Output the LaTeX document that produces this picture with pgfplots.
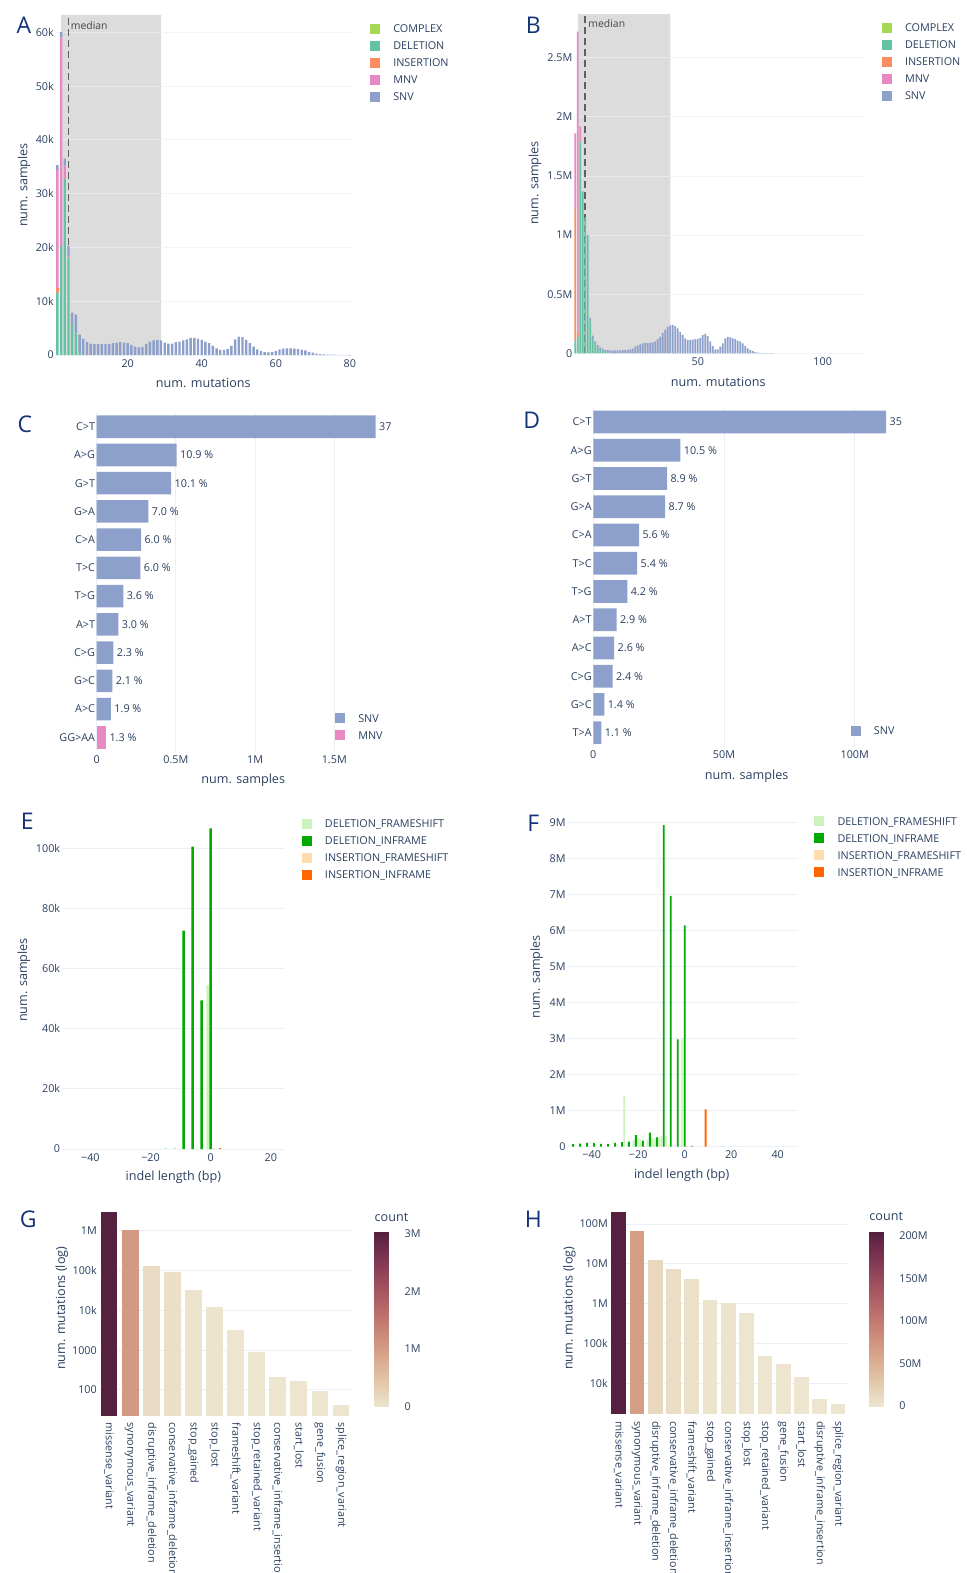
\documentclass[border=0pt]{standalone}
\usepackage{fontspec}
\setmainfont{Open Sans}
\usepackage{pgfplots}
\usepackage{pgfplotstable}
\pgfplotsset{compat=1.18}

\definecolor{tickc}{RGB}{42,63,95}
\definecolor{gridc}{RGB}{235,240,248}
\definecolor{cpx}{RGB}{166,216,84}
\definecolor{del}{RGB}{102,194,165}
\definecolor{ins}{RGB}{252,141,98}
\definecolor{mnv}{RGB}{231,138,195}
\definecolor{snv}{RGB}{141,160,203}
\definecolor{shadec}{RGB}{220,220,220}
\definecolor{medc}{RGB}{95,95,95}
\definecolor{medt}{RGB}{68,68,68}
\definecolor{dfs}{RGB}{204,242,190}
\definecolor{dif}{RGB}{0,170,0}
\definecolor{ifs}{RGB}{255,221,176}
\definecolor{iif}{RGB}{255,102,0}
\definecolor{lett}{RGB}{20,50,120}
% bar colours for G and H (brwnyl colormap at each value)
\definecolor{g0}{RGB}{86,32,64}
\definecolor{g1}{RGB}{210,154,130}
\definecolor{g2}{RGB}{234,220,196}
\definecolor{g3}{RGB}{235,223,199}
\definecolor{g4}{RGB}{236,227,204}
\definecolor{g5}{RGB}{237,228,206}
\definecolor{g6}{RGB}{237,229,207}
\definecolor{h0}{RGB}{86,32,64}
\definecolor{h1}{RGB}{212,158,133}
\definecolor{h2}{RGB}{232,216,190}
\definecolor{h3}{RGB}{234,221,197}
\definecolor{h4}{RGB}{235,225,201}
\definecolor{h5}{RGB}{236,228,205}
\definecolor{h6}{RGB}{237,229,207}

\pgfplotsset{colormap={brwnyl}{rgb255=(237,229,207) rgb255=(224,194,162) rgb255=(211,156,131) rgb255=(193,118,111) rgb255=(166,84,97) rgb255=(129,55,83) rgb255=(84,31,63)}}

\newcommand{\tf}{\fontsize{10.8}{13}\selectfont}
\newcommand{\lf}{\fontsize{12.6}{15}\selectfont}

\pgfplotsset{
 sqlegend/.style={legend image code/.code={\fill[##1] (0pt,-5pt) rectangle (10pt,5pt);}},
 base/.style={
  scale only axis, anchor=south west,
  axis line style={draw=none},
  major tick length=0pt, minor tick length=0pt,
  tick label style={font=\tf, text=tickc},
  label style={font=\lf, text=tickc},
  yticklabel style={anchor=east, inner sep=0pt, xshift=-1.5pt},
  grid style={draw=gridc, line width=1pt},
  xlabel style={anchor=center},
  ylabel style={anchor=center},
  legend style={draw=none, fill=none, inner sep=0pt, outer sep=0pt, anchor=north west, font=\tf, text=tickc, row sep=7pt, nodes={inner sep=0pt, text height=7.72pt, text depth=0pt}, /tikz/every odd column/.append style={column sep=13.3pt}},
  legend cell align=left,
  every axis plot post/.append style={sqlegend},
 },
 xtl/.style={xticklabel style={anchor=base, inner sep=0pt, yshift=-12pt}},
 cbar/.style={scaled y ticks=false, scale only axis, axis line style={draw=none}, major tick length=0pt, yticklabel style={font=\tf, text=tickc, anchor=west, inner sep=0pt, xshift=3.3pt}, title={count}, title style={at={(0,1)}, anchor=base west, inner sep=0pt, font=\lf, text=tickc}},
}

% ---------------- data -----------------
\pgfplotstableread{
x cpx del ins mnv snv
1 0 11.6 0.9 21.9 0.9
2 0 20.3 0 38.7 1.0
3 0 32.7 0 2.5 1.3
4 0 18.1 0 0.3 1.9
5 0 5.8 0 0 2.1
6 0 4.0 0 0 3.5
7 0 0.3 0 0 3.5
8 0 0 0 0 3.0
9 0 0 0 0 2.4
10 0 0 0 0 2.1
11 0 0 0 0 2.0
12 0 0 0 0 2.0
13 0 0 0 0 2.0
14 0 0 0 0 2.0
15 0 0 0 0 2.0
16 0 0 0 0 2.2
17 0 0 0 0 2.3
18 0 0 0 0 2.4
19 0 0 0 0 2.3
20 0 0 0 0 2.2
21 0 0 0 0 1.9
22 0 0 0 0 1.55
23 0 0 0 0 1.4
24 0 0 0 0 1.5
25 0 0 0 0 2.0
26 0 0 0 0 2.5
27 0 0 0 0 2.7
28 0 0 0 0 2.8
29 0 0 0 0 2.7
30 0 0 0 0 2.3
31 0 0 0 0 2.1
32 0 0 0 0 2.1
33 0 0 0 0 2.4
34 0 0 0 0 2.5
35 0 0 0 0 2.7
36 0 0 0 0 2.9
37 0 0 0 0 3.2
38 0 0 0 0 3.2
39 0 0 0 0 3.0
40 0 0 0 0 2.8
41 0 0 0 0 2.5
42 0 0 0 0 2.2
43 0 0 0 0 1.7
44 0 0 0 0 1.25
45 0 0 0 0 0.95
46 0 0 0 0 0.95
47 0 0 0 0 1.1
48 0 0 0 0 1.7
49 0 0 0 0 2.9
50 0 0 0 0 3.4
51 0 0 0 0 3.3
52 0 0 0 0 2.8
53 0 0 0 0 2.2
54 0 0 0 0 1.55
55 0 0 0 0 1.05
56 0 0 0 0 0.7
57 0 0 0 0 0.55
58 0 0 0 0 0.5
59 0 0 0 0 0.55
60 0 0 0 0 0.75
61 0 0 0 0 1.05
62 0 0 0 0 1.2
63 0 0 0 0 1.25
64 0 0 0 0 1.25
65 0 0 0 0 1.2
66 0 0 0 0 1.1
67 0 0 0 0 1.0
68 0 0 0 0 0.85
69 0 0 0 0 0.6
70 0 0 0 0 0.45
71 0 0 0 0 0.25
72 0 0 0 0 0.18
73 0 0 0 0 0.12
74 0 0 0 0 0.08
75 0 0 0 0 0.06
76 0 0 0 0 0.05
77 0 0 0 0 0.04
78 0 0 0 0 0.03
79 0 0 0 0 0.03
80 0 0 0 0 0.02
}\tabA

\pgfplotstableread{
x cpx del ins mnv snv
1 0 100 1120 640 0
2 0 140 30 2550 0
3 0 1790 0 130 0
4 0 1370 0 0 0
5 0 1150 0 0 0
6 0 1000 0 0 0
7 0 270 0 0 30
8 0 130 0 0 20
9 0 80 0 0 20
10 0 50 0 0 20
11 0 30 0 0 20
12 0 20 0 0 20
13 0 10 0 0 18
14 0 5 0 0 22
15 0 0 0 0 25
16 0 0 0 0 25
17 0 0 0 0 25
18 0 0 0 0 25
19 0 0 0 0 25
20 0 0 0 0 26
21 0 0 0 0 28
22 0 0 0 0 30
23 0 0 0 0 34
24 0 0 0 0 40
25 0 0 0 0 56
26 0 0 0 0 68
27 0 0 0 0 76
28 0 0 0 0 85
29 0 0 0 0 88
30 0 0 0 0 88
31 0 0 0 0 90
32 0 0 0 0 92
33 0 0 0 0 100
34 0 0 0 0 120
35 0 0 0 0 140
36 0 0 0 0 170
37 0 0 0 0 200
38 0 0 0 0 225
39 0 0 0 0 237
40 0 0 0 0 240
41 0 0 0 0 230
42 0 0 0 0 210
43 0 0 0 0 180
44 0 0 0 0 155
45 0 0 0 0 127
46 0 0 0 0 113
47 0 0 0 0 113
48 0 0 0 0 115
49 0 0 0 0 120
50 0 0 0 0 122
51 0 0 0 0 130
52 0 0 0 0 155
53 0 0 0 0 165
54 0 0 0 0 145
55 0 0 0 0 100
56 0 0 0 0 60
57 0 0 0 0 34
58 0 0 0 0 34
59 0 0 0 0 56
60 0 0 0 0 85
61 0 0 0 0 127
62 0 0 0 0 140
63 0 0 0 0 135
64 0 0 0 0 127
65 0 0 0 0 120
66 0 0 0 0 107
67 0 0 0 0 100
68 0 0 0 0 85
69 0 0 0 0 62
70 0 0 0 0 42
71 0 0 0 0 28
72 0 0 0 0 20
73 0 0 0 0 11
74 0 0 0 0 6
75 0 0 0 0 3
76 0 0 0 0 2
77 0 0 0 0 1
78 0 0 0 0 1
79 0 0 0 0 0.5
80 0 0 0 0 0.5
}\tabB

\pgfplotstableread[col sep=comma]{
y,v,lab
0,1.761,37
1,0.505,10.9 \%
2,0.470,10.1 \%
3,0.326,7.0 \%
4,0.280,6.0 \%
5,0.276,6.0 \%
6,0.168,3.6 \%
7,0.137,3.0 \%
8,0.105,2.3 \%
9,0.099,2.1 \%
10,0.090,1.9 \%
}\tabCsnv
\pgfplotstableread[col sep=comma]{
y,v,lab
11,0.059,1.3 \%
}\tabCmnv
\pgfplotstableread[col sep=comma]{
y,v,lab
0,112.0,35
1,33.3,10.5 \%
2,28.2,8.9 \%
3,27.5,8.7 \%
4,17.5,5.6 \%
5,16.8,5.4 \%
6,13.0,4.2 \%
7,8.9,2.9 \%
8,8.0,2.6 \%
9,7.4,2.4 \%
10,4.2,1.4 \%
11,3.1,1.1 \%
}\tabD

\begin{document}
\begin{tikzpicture}
\useasboundingbox (0pt,0pt) rectangle (966pt,-1573pt);

% ================= A =================
% background: shaded interval only
\begin{axis}[base, at={(55.5pt,-355pt)}, width=296.2pt, height=340pt,
 xmin=0.5, xmax=80.5, ymin=0, ymax=63.2, xtick=\empty, ytick=\empty]
\addplot[fill=shadec, draw=none] coordinates {(2,0) (2,63.2) (29,63.2) (29,0)} \closedcycle;
\end{axis}
\begin{axis}[base, xtl, at={(55.5pt,-355pt)}, width=296.2pt, height=340pt,
 ybar stacked, bar width=0.65, xmin=0.5, xmax=80.5, ymin=0, ymax=63.2,
 xtick={20,40,60,80}, xticklabels={20,40,60,80},
 ytick={0,10,20,30,40,50,60}, yticklabels={0,10k,20k,30k,40k,50k,60k},
 ymajorgrids, grid style={draw=gridc, line width=0.8pt, opacity=0.7},
 xlabel={num. mutations}, ylabel={num. samples},
 xlabel style={at={(axis description cs:0.499,-0.083)}},
 ylabel style={at={(axis description cs:-0.106,0.5)}},
 legend style={at={(1.0618,0.9735)}},
]
\addplot[fill=cpx, draw=none] table[x=x,y=cpx] \tabA; \addlegendentry{COMPLEX}
\addplot[fill=del, draw=none] table[x=x,y=del] \tabA; \addlegendentry{DELETION}
\addplot[fill=ins, draw=none] table[x=x,y=ins] \tabA; \addlegendentry{INSERTION}
\addplot[fill=mnv, draw=none] table[x=x,y=mnv] \tabA; \addlegendentry{MNV}
\addplot[fill=snv, draw=none] table[x=x,y=snv] \tabA; \addlegendentry{SNV}
\draw[medc, dash pattern=on 7pt off 4pt, line width=1.8pt] (axis cs:4,0) -- (axis cs:4,63.2);
\node[anchor=west, inner sep=0pt, font=\fontsize{10.4}{12}\selectfont, text=medt] at (axis cs:4.6,61.3) {median};
\end{axis}

% ================= B =================
\begin{axis}[base, at={(574pt,-353.3pt)}, width=290pt, height=339.3pt,
 xmin=0.5, xmax=116.5, ymin=0, ymax=2870, xtick=\empty, ytick=\empty]
\addplot[fill=shadec, draw=none] coordinates {(2,0) (2,2870) (39,2870) (39,0)} \closedcycle;
\end{axis}
\begin{axis}[base, xtl, at={(574pt,-353.3pt)}, width=290pt, height=339.3pt,
 ybar stacked, bar width=0.65, xmin=0.5, xmax=116.5, ymin=0, ymax=2870,
 xtick={50,100}, xticklabels={50,100},
 ytick={0,500,1000,1500,2000,2500}, yticklabels={0,0.5M,1M,1.5M,2M,2.5M},
 ymajorgrids, grid style={draw=gridc, line width=0.8pt, opacity=0.7},
 xlabel={num. mutations}, ylabel={num. samples},
 xlabel style={at={(axis description cs:0.4976,-0.0837)}},
 ylabel style={at={(axis description cs:-0.1345,0.502)}},
 legend style={at={(1.061,0.9744)}},
]
\addplot[fill=cpx, draw=none] table[x=x,y=cpx] \tabB; \addlegendentry{COMPLEX}
\addplot[fill=del, draw=none] table[x=x,y=del] \tabB; \addlegendentry{DELETION}
\addplot[fill=ins, draw=none] table[x=x,y=ins] \tabB; \addlegendentry{INSERTION}
\addplot[fill=mnv, draw=none] table[x=x,y=mnv] \tabB; \addlegendentry{MNV}
\addplot[fill=snv, draw=none] table[x=x,y=snv] \tabB; \addlegendentry{SNV}
\draw[medc, dash pattern=on 7pt off 4pt, line width=1.8pt] (axis cs:5,0) -- (axis cs:5,2870);
\node[anchor=west, inner sep=0pt, font=\fontsize{10.4}{12}\selectfont, text=medt] at (axis cs:6.2,2792) {median};
\end{axis}

% ================= C =================
\begin{axis}[base, xtl, at={(96.7pt,-751.4pt)}, width=281.3pt, height=338.8pt,
 xbar, bar shift=0pt, bar width=0.8, y dir=reverse,
 ymin=-0.5, ymax=11.5, xmin=0, xmax=1.776,
 ytick={0,...,11}, yticklabels={C>T,A>G,G>T,G>A,C>A,T>C,T>G,A>T,C>G,G>C,A>C,GG>AA},
 xtick={0,0.5,1,1.5}, xticklabels={0,0.5M,1M,1.5M},
 xmajorgrids,
 xlabel={num. samples},
 xlabel style={at={(axis description cs:0.521,-0.0844)}},
 legend style={at={(0.847,0.1125)}},
 nodes near coords, point meta=explicit symbolic,
 every node near coord/.append style={anchor=west, inner sep=0pt, xshift=3.3pt, font=\tf, text=tickc},
 clip=false,
]
\addplot[fill=snv, draw=none] table[x=v,y=y,meta=lab] \tabCsnv; \addlegendentry{SNV}
\addplot[fill=mnv, draw=none] table[x=v,y=y,meta=lab] \tabCmnv; \addlegendentry{MNV}
\end{axis}

% ================= D =================
\begin{axis}[base, xtl, at={(593.3pt,-746.8pt)}, width=295.4pt, height=338.9pt,
 xbar, bar shift=0pt, bar width=0.8, y dir=reverse,
 ymin=-0.5, ymax=11.5, xmin=0, xmax=113,
 ytick={0,...,11}, yticklabels={C>T,A>G,G>T,G>A,C>A,T>C,T>G,A>T,A>C,C>G,G>C,T>A},
 xtick={0,50,100}, xticklabels={0,50M,100M},
 xmajorgrids,
 xlabel={num. samples},
 xlabel style={at={(axis description cs:0.519,-0.086)}},
 legend style={at={(0.8713,0.0614)}},
 nodes near coords, point meta=explicit symbolic,
 every node near coord/.append style={anchor=west, inner sep=0pt, xshift=3.3pt, font=\tf, text=tickc},
 clip=false,
]
\addplot[fill=snv, draw=none] table[x=v,y=y,meta=lab] \tabD; \addlegendentry{SNV}
\end{axis}

% ================= E =================
\begin{axis}[base, xtl, at={(61.8pt,-1149pt)}, width=222.6pt, height=337pt,
 ybar, bar shift=0pt, bar width=0.8,
 xmin=-49.5, xmax=24.5, ymin=0, ymax=112,
 xtick={-40,-20,0,20}, xticklabels={−40,−20,0,20},
 ytick={0,20,40,60,80,100}, yticklabels={0,20k,40k,60k,80k,100k},
 ymajorgrids,
 xlabel={indel length (bp)}, ylabel={num. samples},
 xlabel style={at={(axis description cs:0.501,-0.085)}},
 ylabel style={at={(axis description cs:-0.17,0.5015)}},
 legend style={at={(1.0777,0.9792)}},
]
\addplot[fill=dfs, draw=none] coordinates {(-15,0.5) (-12,0.5) (-1,54.5)}; \addlegendentry{DELETION\_FRAMESHIFT}
\addplot[fill=dif, draw=none] coordinates {(-9,72.6) (-6,100.5) (-3,49.4) (0,106.6)}; \addlegendentry{DELETION\_INFRAME}
\addplot[fill=ifs, draw=none] coordinates {(1,0.3)}; \addlegendentry{INSERTION\_FRAMESHIFT}
\addplot[fill=iif, draw=none] coordinates {(3,0.4)}; \addlegendentry{INSERTION\_INFRAME}
\end{axis}

% ================= F =================
\begin{axis}[base, xtl, at={(567.3pt,-1146.7pt)}, width=230.2pt, height=337.7pt,
 ybar, bar shift=0pt, bar width=0.8,
 xmin=-50.5, xmax=48.5, ymin=0, ymax=9.38,
 xtick={-40,-20,0,20,40}, xticklabels={−40,−20,0,20,40},
 ytick={0,1,2,3,4,5,6,7,8,9}, yticklabels={0,1M,2M,3M,4M,5M,6M,7M,8M,9M},
 ymajorgrids,
 xlabel={indel length (bp)}, ylabel={num. samples},
 xlabel style={at={(axis description cs:0.497,-0.084)}},
 ylabel style={at={(axis description cs:-0.133,0.503)}},
 legend style={at={(1.073,0.9784)}},
]
\addplot[fill=dfs, draw=none] coordinates {(-26,1.41) (-22,0.18) (-20,0.24) (-19,0.2) (-16,0.2) (-14,0.24) (-13,0.22) (-11,0.26) (-10,0.3) (-8,0.3) (-1,3.0)}; \addlegendentry{DELETION\_FRAMESHIFT}
\addplot[fill=dif, draw=none] coordinates {(-48,0.074) (-45,0.083) (-42,0.11) (-39,0.1) (-36,0.08) (-33,0.07) (-30,0.11) (-27,0.13) (-24,0.14) (-21,0.32) (-18,0.17) (-15,0.39) (-12,0.26) (-9,8.93) (-6,6.97) (-3,2.98) (0,6.15)}; \addlegendentry{DELETION\_INFRAME}
\addplot[fill=ifs, draw=none] coordinates {(1,0.02)}; \addlegendentry{INSERTION\_FRAMESHIFT}
\addplot[fill=iif, draw=none] coordinates {(3,0.03) (9,1.04)}; \addlegendentry{INSERTION\_INFRAME}
\end{axis}

% ================= G =================
\begin{axis}[base, at={(98.5pt,-1415.7pt)}, width=253.1pt, height=204.7pt,
 ybar, bar shift=0pt, bar width=0.8, ymode=log, log origin=infty,
 xmin=-0.5, xmax=11.5, ymin=22.5, ymax=3.18e6,
 xtick={0,...,11},
 xticklabels={missense\_variant,synonymous\_variant,disruptive\_inframe\_deletion,conservative\_inframe\_deletion,stop\_gained,stop\_lost,frameshift\_variant,stop\_retained\_variant,conservative\_inframe\_insertion,start\_lost,gene\_fusion,splice\_region\_variant},
 xticklabel style={rotate=-90, anchor=west, inner sep=0pt, inner xsep=6.6pt},
 ytick={100,1000,10000,100000,1000000}, yticklabels={100,1000,10k,100k,1M},
 ymajorgrids,
 ylabel={num. mutations (log)},
 ylabel style={at={(axis description cs:-0.145,0.525)}},
 colorbar, colormap name=brwnyl, point meta min=0, point meta max=3.03e6,
 colorbar style={cbar, at={(parent axis.north east)}, anchor=north west, xshift=14.4pt, yshift=-20.7pt, width=26.7pt, height=175pt, ytick={0,1e6,2e6,3e6}, yticklabels={0,1M,2M,3M}, title style={yshift=4.1pt}},
]
\addplot[fill=g0, draw=none] coordinates {(0,3.0e6)};
\addplot[fill=g1, draw=none] coordinates {(1,1.04e6)};
\addplot[fill=g2, draw=none] coordinates {(2,1.28e5)};
\addplot[fill=g3, draw=none] coordinates {(3,9.06e4)};
\addplot[fill=g4, draw=none] coordinates {(4,3.3e4)};
\addplot[fill=g5, draw=none] coordinates {(5,1.19e4)};
\addplot[fill=g6, draw=none] coordinates {(6,3260)};
\addplot[fill=g6, draw=none] coordinates {(7,927)};
\addplot[fill=g6, draw=none] coordinates {(8,209)};
\addplot[fill=g6, draw=none] coordinates {(9,168)};
\addplot[fill=g6, draw=none] coordinates {(10,96)};
\addplot[fill=g6, draw=none] coordinates {(11,42)};
\end{axis}

% ================= H =================
\begin{axis}[base, at={(609.5pt,-1414.3pt)}, width=237.7pt, height=203.5pt,
 ybar, bar shift=0pt, bar width=0.8, ymode=log, log origin=infty,
 xmin=-0.5, xmax=12.5, ymin=1710, ymax=2.14e8,
 xtick={0,...,12},
 xticklabels={missense\_variant,synonymous\_variant,disruptive\_inframe\_deletion,conservative\_inframe\_deletion,frameshift\_variant,stop\_gained,conservative\_inframe\_insertion,stop\_lost,stop\_retained\_variant,gene\_fusion,start\_lost,disruptive\_inframe\_insertion,splice\_region\_variant},
 xticklabel style={rotate=-90, anchor=west, inner sep=0pt, inner xsep=6.6pt},
 ytick={10000,100000,1000000,10000000,100000000}, yticklabels={10k,100k,1M,10M,100M},
 ymajorgrids,
 ylabel={num. mutations (log)},
 ylabel style={at={(axis description cs:-0.169,0.521)}},
 colorbar, colormap name=brwnyl, point meta min=0, point meta max=2.06e8,
 colorbar style={cbar, at={(parent axis.north east)}, anchor=north west, xshift=13.5pt, yshift=-20.2pt, width=26.6pt, height=175pt, ytick={0,5e7,1e8,1.5e8,2e8}, yticklabels={0,50M,100M,150M,200M}, title style={yshift=4.4pt}},
]
\addplot[fill=h0, draw=none] coordinates {(0,2.04e8)};
\addplot[fill=h1, draw=none] coordinates {(1,6.68e7)};
\addplot[fill=h2, draw=none] coordinates {(2,1.28e7)};
\addplot[fill=h3, draw=none] coordinates {(3,7.6e6)};
\addplot[fill=h4, draw=none] coordinates {(4,4.28e6)};
\addplot[fill=h5, draw=none] coordinates {(5,1.26e6)};
\addplot[fill=h5, draw=none] coordinates {(6,1.08e6)};
\addplot[fill=h6, draw=none] coordinates {(7,6.05e5)};
\addplot[fill=h6, draw=none] coordinates {(8,5.0e4)};
\addplot[fill=h6, draw=none] coordinates {(9,3.06e4)};
\addplot[fill=h6, draw=none] coordinates {(10,1.45e4)};
\addplot[fill=h6, draw=none] coordinates {(11,4200)};
\addplot[fill=h6, draw=none] coordinates {(12,3100)};
\end{axis}

% panel letters
\begin{scope}[every node/.style={font=\fontsize{23}{26}\selectfont, text=lett, inner sep=0pt}]
\node at (23.8pt,-25pt) {A};
\node at (533.3pt,-25pt) {B};
\node at (25pt,-424pt) {C};
\node at (531.7pt,-420pt) {D};
\node at (27.3pt,-821.7pt) {E};
\node at (533.3pt,-823.3pt) {F};
\node at (28.3pt,-1219.3pt) {G};
\node at (533.3pt,-1219.3pt) {H};
\end{scope}
\end{tikzpicture}
\end{document}
